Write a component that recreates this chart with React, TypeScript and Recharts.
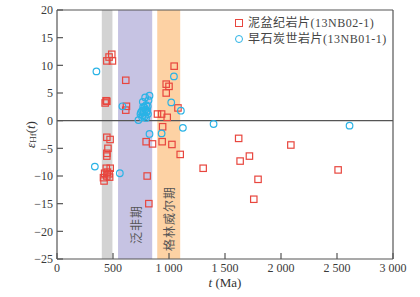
import {
  ScatterChart,
  Scatter,
  XAxis,
  YAxis,
  ReferenceArea,
  ReferenceLine,
  Legend,
} from 'recharts';

// 泥盆纪岩片 (13NB02-1)
const devT = [
  489, 465, 445, 495, 430, 438, 445, 614, 620, 614,
  445, 474, 455, 445, 445, 440, 475, 425, 450, 465, 415, 470, 420, 445,
  1046, 975, 1000, 975, 1080, 897, 934, 984, 943, 939, 1026, 1100,
  796, 853, 805, 820,
  1305, 1622, 1635, 1718, 1757, 1795, 2088, 2510,
];
const devE = [
  12.0, 11.5, 10.8, 10.8, 3.2, 3.6, 3.5, 7.3, 2.6, 1.9,
  -3.0, -3.4, -5.0, -5.9, -6.4, -8.6, -8.6, -9.5, -9.3, -9.6, -10.3, -10.2, -10.9, -10.0,
  9.85, 6.6, 6.2, 5.0, 2.3, 1.2, 1.2, 0.6, -1.1, -3.8, -4.3, -6.1,
  -3.8, -4.2, -10.0, -15.0,
  -8.6, -3.2, -7.3, -6.4, -14.2, -10.6, -4.4, -8.9,
];

// 早石炭世岩片 (13NB01-1)
const carbT = [
  352, 338, 561, 584, 727, 826, 934, 1044, 1020, 1106, 1124, 1398, 2612,
  826, 787, 766, 817, 796, 810, 770, 790, 760, 775, 800, 812, 745, 765, 785, 760, 795, 805, 780, 750,
];
const carbE = [
  8.9, -8.3, -9.5, 2.6, 0.1, -2.4, -2.3, 8.0, 3.3, 1.8, -1.3, -0.6, -0.9,
  4.5, 4.2, 3.4, 3.7, 2.8, 2.6, 2.5, 2.0, 1.8, 1.6, 1.5, 1.2, 1.2, 1.0, 0.8, 0.6, 0.5, 1.8, 2.4, 1.5,
];

const xTicks = [0, 500, 1000, 1500, 2000, 2500, 3000];
const yTicks = [-25, -20, -15, -10, -5, 0, 5, 10, 15, 20];

const bands = [
  { from: 400, to: 495, color: '#d3d3d3', name: '' },
  { from: 545, to: 850, color: '#c6c3e3', name: '泛非期' },
  { from: 895, to: 1100, color: '#fdd2a4', name: '格林威尔期' },
];

const devData = devT.map((t, i) => ({ t, e: devE[i] }));
const carbData = carbT.map((t, i) => ({ t, e: carbE[i] }));

const RED = '#e8463e';
const BLUE = '#2ab3e6';
const AXIS = '#555';
const SERIF = "'Liberation Serif', 'Noto Sans CJK SC', serif";
const CJK = "'Noto Sans CJK SC', sans-serif";

const fmt = (v: number) => {
  const s = Math.abs(v) >= 1000 ? String(v).replace(/(\d)(\d{3})$/, '$1 $2') : String(Math.abs(v));
  return v < 0 ? '\u2212' + s : s;
};

const Square = (p: any) => (
  <rect x={p.cx - 3.2} y={p.cy - 3.2} width={6.4} height={6.4} fill="none" stroke={RED} strokeWidth={1.2} />
);
const Ring = (p: any) => (
  <circle cx={p.cx} cy={p.cy} r={3.3} fill="none" stroke={BLUE} strokeWidth={1.2} />
);

const bandLabel = (text: string, bottomGap: number) => (props: any) => {
  const { x, y, width, height } = props.viewBox;
  const cx = x + width / 2;
  const by = y + height - bottomGap;
  return (
    <text
      x={cx}
      y={by}
      transform={`rotate(-90, ${cx}, ${by})`}
      fill="#555"
      fontSize={12}
      fontFamily={CJK}
      letterSpacing={1}
      dominantBaseline="central"
    >
      {text}
    </text>
  );
};

const YLabel = (props: any) => {
  const { y, height } = props.viewBox;
  const cx = 30;
  const cy = y + height / 2;
  return (
    <text
      x={cx}
      y={cy}
      transform={`rotate(-90, ${cx}, ${cy})`}
      textAnchor="middle"
      fill="#333"
      fontSize={13}
      fontFamily={SERIF}
      dominantBaseline="central"
    >
      <tspan fontStyle="italic">ε</tspan>
      <tspan fontSize={9} dy={3}>Hf</tspan>
      <tspan dy={-3}>(</tspan>
      <tspan fontStyle="italic">t</tspan>
      <tspan>)</tspan>
    </text>
  );
};

const XLabel = (props: any) => {
  const { x, y, width } = props.viewBox;
  return (
    <text x={x + width / 2} y={y + 28} textAnchor="middle" fill="#333" fontSize={13} fontFamily={SERIF}>
      <tspan fontStyle="italic">t</tspan>
      <tspan> (Ma)</tspan>
    </text>
  );
};

const LegendBox = () => (
  <div style={{ fontFamily: SERIF, fontSize: 12, color: '#444', lineHeight: '16px' }}>
    <div style={{ display: 'flex', alignItems: 'center' }}>
      <span style={{ width: 6, height: 6, border: `1.2px solid ${RED}`, marginRight: 5 }} />
      <span style={{ letterSpacing: 0.5 }}>泥盆纪岩片(13NB02-1)</span>
    </div>
    <div style={{ display: 'flex', alignItems: 'center' }}>
      <span style={{ width: 6, height: 6, border: `1.2px solid ${BLUE}`, borderRadius: '50%', marginRight: 5 }} />
      <span style={{ letterSpacing: 0.5 }}>早石炭世岩片(13NB01-1)</span>
    </div>
  </div>
);

export default function App() {
  return (
    <div style={{ position: 'absolute', left: 0, top: 0, background: '#fff' }}>
      <ScatterChart width={420} height={297} margin={{ top: 10, right: 27, left: 0, bottom: 0 }}>
        {bands.map((b) => (
          <ReferenceArea
            key={b.from}
            x1={b.from}
            x2={b.to}
            y1={-25}
            y2={20}
            fill={b.color}
            fillOpacity={1}
            stroke="none"
            label={b.name ? bandLabel(b.name, b.from > 800 ? 8 : 15) : undefined}
          />
        ))}
        <ReferenceLine y={0} stroke={AXIS} strokeWidth={1.2} />
        <ReferenceLine y={20} stroke={AXIS} strokeWidth={1.2} />
        <ReferenceLine x={3000} stroke={AXIS} strokeWidth={1.2} />
        <XAxis
          type="number"
          dataKey="t"
          domain={[0, 3000]}
          ticks={xTicks}
          tickFormatter={fmt}
          height={38}
          tickSize={-6}
          tickMargin={10}
          stroke={AXIS}
          strokeWidth={1.2}
          tick={{ fill: '#3a3a3a', fontSize: 12, fontFamily: SERIF }}
          label={<XLabel />}
        />
        <YAxis
          type="number"
          dataKey="e"
          domain={[-25, 20]}
          ticks={yTicks}
          tickFormatter={fmt}
          width={57}
          tickSize={-6}
          tickMargin={10}
          stroke={AXIS}
          strokeWidth={1.2}
          tick={{ fill: '#3a3a3a', fontSize: 12, fontFamily: SERIF }}
          label={<YLabel />}
        />
        <Legend
          layout="vertical"
          align="center"
          verticalAlign="middle"
          content={<LegendBox />}
          wrapperStyle={{ top: 15, left: 235, width: 160 }}
        />
        <Scatter name="泥盆纪岩片(13NB02-1)" data={devData} shape={Square} isAnimationActive={false} />
        <Scatter name="早石炭世岩片(13NB01-1)" data={carbData} shape={Ring} isAnimationActive={false} />
      </ScatterChart>
    </div>
  );
}
